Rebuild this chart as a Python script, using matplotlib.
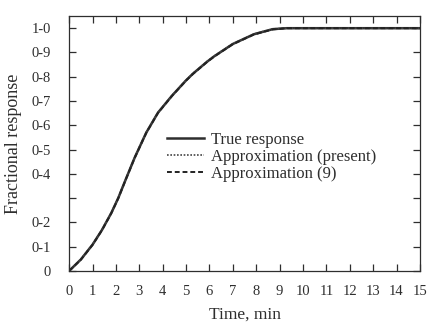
import numpy as np
import matplotlib
matplotlib.use("Agg")
import matplotlib.pyplot as plt

plt.rcParams['font.family'] = ['Liberation Serif', 'DejaVu Serif']

# values (the three curves nearly coincide)
time_min = [0, 0.5, 1.0, 1.4, 1.8, 2.1, 2.4, 2.8, 3.3, 3.8, 4.4, 5.0, 5.3, 5.9, 6.2,
            7.0, 7.9, 8.7, 9.3, 10, 11, 12, 13, 14, 15]
true_resp = [0, 0.047, 0.108, 0.168, 0.238, 0.300, 0.372, 0.466, 0.570, 0.652, 0.722,
             0.785, 0.813, 0.862, 0.884, 0.935, 0.975, 0.996, 1.0, 1.0, 1.0, 1.0, 1.0, 1.0, 1.0]
approx_present = [0, 0.048, 0.109, 0.169, 0.239, 0.301, 0.373, 0.467, 0.571, 0.653, 0.723,
                  0.786, 0.814, 0.863, 0.885, 0.936, 0.976, 0.997, 1.0, 1.0, 1.0, 1.0, 1.0, 1.0, 1.0]
approx_9 = [0, 0.046, 0.107, 0.167, 0.237, 0.299, 0.371, 0.465, 0.569, 0.651, 0.721,
            0.784, 0.812, 0.861, 0.883, 0.934, 0.974, 0.995, 1.0, 1.0, 1.0, 1.0, 1.0, 1.0, 1.0]

x_ticks = list(range(0, 16))
y_ticks = [0, 0.1, 0.2, 0.3, 0.4, 0.5, 0.6, 0.7, 0.8, 0.9, 1.0]
y_labels = ["0", "0-1", "0-2", "", "0-4", "0-5", "0-6", "0-7", "0-8", "0-9", "1-0"]

ink = "#2e2e2e"

fig = plt.figure(figsize=(4.32, 3.28), dpi=100)
ax = fig.add_axes([0.16, 0.174, 0.812, 0.777])

ax.plot(time_min, true_resp, color=ink, lw=1.8, ls="-", label="True response")
ax.plot(time_min, approx_present, color="#444444", lw=1.2, ls=(0, (1, 1)),
        label="Approximation (present)")
ax.plot(time_min, approx_9, color="#222222", lw=1.4, ls=(0, (2.5, 1.5)),
        label="Approximation (9)")

ax.set_xlim(0, 15)
ax.set_ylim(0, 1.05)
ax.set_xticks(x_ticks)
ax.set_yticks(y_ticks)
ax.set_yticklabels(y_labels)
ax.tick_params(direction="in", top=True, right=True, length=5, width=0.9,
               labelsize=10.5, colors=ink)
ax.tick_params(axis="x", pad=10)
ax.tick_params(axis="y", pad=13)
for s in ax.spines.values():
    s.set_linewidth(0.9)
    s.set_color(ink)

ax.set_xlabel("Time, min", fontsize=12.5, color=ink, labelpad=6)
ax.set_ylabel("Fractional response", fontsize=13, color=ink, labelpad=7)

leg = ax.legend(loc="center left", bbox_to_anchor=(0.255, 0.447), frameon=False,
                fontsize=12, handlelength=2.2, handletextpad=0.45,
                labelspacing=0.05, borderpad=0)
for t in leg.get_texts():
    t.set_color(ink)

fig.savefig("out.png", dpi=100)
